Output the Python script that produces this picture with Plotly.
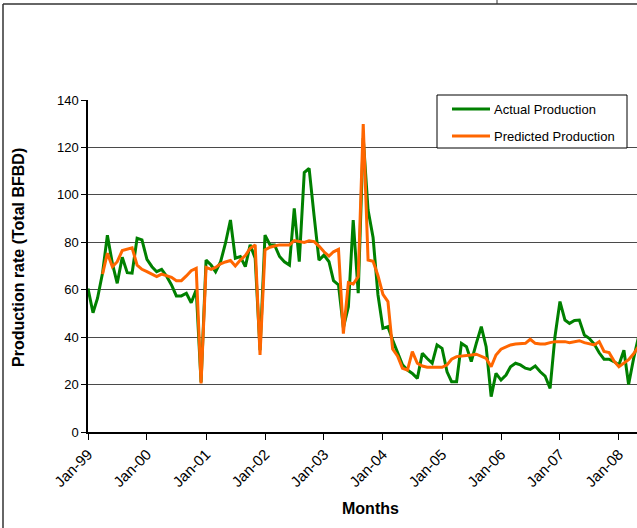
import pandas as pd
import plotly.graph_objects as go

# Monthly production, Jan-1999 onwards (Total BFBD)
months = pd.date_range("1999-01-01", periods=113, freq="MS")

actual_production = [
    60.5, 50.3, 56.4, 67.0, 83.0, 71.0, 62.7, 73.7, 67.2, 67.0, 81.7, 81.0,
    72.8, 69.7, 67.6, 68.6, 65.8, 62.0, 57.4, 57.4, 58.5, 54.5, 60.0, 21.0,
    72.5, 70.4, 67.6, 71.8, 79.6, 89.4, 73.3, 74.0, 69.7, 78.9, 73.3, 34.5,
    83.0, 78.9, 78.9, 74.0, 71.8, 70.4, 94.3, 71.8, 109.4, 111.2, 91.0, 72.5,
    74.6, 71.8, 63.8, 62.0, 44.0, 52.8, 89.4, 58.5, 124.0, 93.6, 82.0, 58.0,
    43.7, 44.4, 38.8, 33.2, 28.3, 26.1, 24.7, 22.6, 33.2, 31.0, 29.0, 36.7,
    35.3, 25.4, 21.2, 21.2, 37.4, 36.0, 29.7, 37.4, 44.4, 36.0, 14.9, 24.7,
    21.9, 24.0, 27.5, 29.0, 28.3, 26.9, 26.4, 27.8, 25.4, 23.6, 18.4, 40.2,
    55.0, 47.2, 45.8, 47.0, 47.2, 40.9, 39.5, 37.1, 33.4, 30.7, 30.7, 29.7,
    28.3, 34.5, 20.0, 31.0, 40.0,
]

predicted_production = [
    None, None, None, 66.6, 75.4, 69.7, 71.8, 76.5, 77.2, 77.7, 70.4, 68.6,
    67.6, 66.5, 65.5, 66.6, 65.8, 65.2, 63.8, 63.8, 65.8, 68.0, 69.0, 20.5,
    69.4, 68.6, 69.4, 70.9, 71.7, 72.3, 70.0, 72.5, 74.4, 77.5, 78.9, 32.5,
    76.8, 77.9, 78.4, 78.9, 78.9, 78.9, 80.7, 80.3, 79.9, 80.6, 80.3, 78.4,
    76.0, 74.2, 76.0, 77.0, 41.5, 63.0, 62.4, 65.5, 129.9, 72.5, 72.0, 66.0,
    58.0, 55.0, 35.0, 32.0, 26.9, 26.1, 33.9, 29.0, 27.8, 27.3, 27.3, 27.3,
    27.3, 28.3, 30.7, 31.8, 32.0, 32.0, 32.5, 32.8, 31.8, 31.0, 27.5, 32.5,
    34.9, 36.0, 36.7, 37.1, 37.4, 37.4, 39.1, 37.4, 37.1, 37.1, 37.7, 38.1,
    38.1, 38.1, 37.7, 38.1, 38.5, 37.7, 37.1, 36.7, 38.1, 34.0, 33.5, 30.0,
    27.5, 29.0, 30.5, 33.0, 36.0,
]

series_names = ["Actual Production", "Predicted Production"]
series_colors = ["#008000", "#FF6600"]

tick_dates = pd.date_range("1999-01-01", "2008-01-01", freq="YS")
tick_labels = ["Jan-99", "Jan-00", "Jan-01", "Jan-02", "Jan-03",
               "Jan-04", "Jan-05", "Jan-06", "Jan-07", "Jan-08"]

FONT = "Liberation Sans, Arial, sans-serif"

fig = go.Figure()
for name, color, values in zip(series_names, series_colors,
                               [actual_production, predicted_production]):
    fig.add_trace(go.Scatter(
        x=months, y=values, mode="lines", name=name,
        line=dict(color=color, width=3), showlegend=False,
    ))

# plot area in pixels: left 88, right 637, top 100, bottom 432
L, R, T, B = 88, 637, 100, 432
W, H = R - L, B - T


def px_x(px):
    return (px - L) / W


def px_y(py):
    return (B - py) / H


shapes = [
    # outer chart border (left and top edges)
    dict(type="line", xref="paper", yref="paper",
         x0=px_x(3), x1=px_x(3), y0=px_y(4), y1=px_y(540),
         line=dict(color="#333333", width=1.5)),
    dict(type="line", xref="paper", yref="paper",
         x0=px_x(3), x1=px_x(640), y0=px_y(4), y1=px_y(4),
         line=dict(color="#333333", width=1.5)),
    dict(type="line", xref="paper", yref="paper",
         x0=px_x(497), x1=px_x(497), y0=px_y(-2), y1=px_y(4),
         line=dict(color="#333333", width=1)),
    # legend box
    dict(type="rect", xref="paper", yref="paper",
         x0=px_x(437), x1=px_x(627), y0=px_y(148), y1=px_y(95),
         fillcolor="white", line=dict(color="black", width=1), layer="above"),
]

annotations = [
    dict(text="<b>Production rate (Total BFBD)</b>", textangle=-90,
         x=px_x(18), y=px_y(258), xref="paper", yref="paper",
         xanchor="center", yanchor="middle",
         showarrow=False, font=dict(family=FONT, size=16)),
    dict(text="<b>Months</b>",
         x=px_x(370), y=px_y(508), xref="paper", yref="paper",
         xanchor="center", yanchor="middle",
         showarrow=False, font=dict(family=FONT, size=16)),
]

# legend entries: sample line + label
for i, (name, color) in enumerate(zip(series_names, series_colors)):
    row_y = 109 + i * 27
    shapes.append(dict(type="line", xref="paper", yref="paper",
                       x0=px_x(452), x1=px_x(490), y0=px_y(row_y), y1=px_y(row_y),
                       line=dict(color=color, width=3), layer="above"))
    annotations.append(dict(text=name, x=px_x(492), y=px_y(row_y),
                            xref="paper", yref="paper",
                            xanchor="left", yanchor="middle", showarrow=False,
                            font=dict(family=FONT, size=13)))

fig.update_layout(
    width=637, height=528,
    margin=dict(l=L, r=637 - R, t=T, b=528 - B, pad=0),
    paper_bgcolor="white", plot_bgcolor="white",
    font=dict(family=FONT, size=13, color="black"),
    showlegend=False,
    xaxis=dict(
        type="date", range=["1999-01-01", "2008-04-22"],
        tickvals=tick_dates, ticktext=tick_labels, tickangle=-45,
        ticks="outside", ticklen=6, tickcolor="black", tickwidth=1,
        showline=True, linecolor="black", linewidth=1.5,
        showgrid=False, zeroline=False,
        tickfont=dict(family=FONT, size=15),
    ),
    yaxis=dict(
        range=[0, 140], dtick=20, tick0=0,
        ticks="outside", ticklen=5, tickcolor="black", tickwidth=1,
        showline=True, linecolor="black", linewidth=1.5,
        showgrid=True, gridcolor="#4a4a4a", gridwidth=1,
        zeroline=False,
        tickfont=dict(family=FONT, size=13),
    ),
    annotations=annotations,
    shapes=shapes,
)

fig.write_html("out.html")
